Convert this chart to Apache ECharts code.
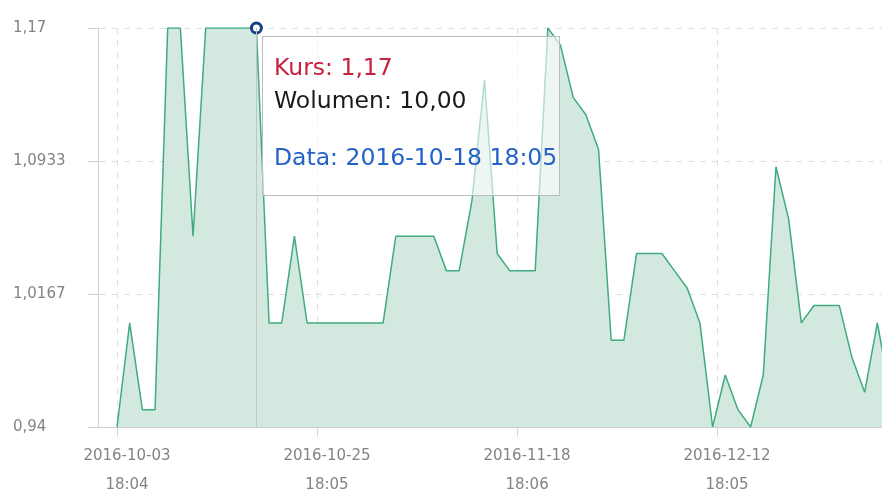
<!DOCTYPE html>
<html>
<head>
<meta charset="utf-8">
<script src="https://cdn.jsdelivr.net/npm/echarts@6/dist/echarts.min.js"></script>
<style>
html,body{margin:0;padding:0;background:#fff;}
#chart{width:882px;height:492px;}
</style>
</head>
<body>
<div id="chart"></div>
<script>
// ---- data ----
const dates = [
  '2016-10-03 18:04','2016-10-04 18:05','2016-10-05 18:05','2016-10-06 18:05','2016-10-07 18:05',
  '2016-10-10 18:05','2016-10-11 18:05','2016-10-12 18:05','2016-10-13 18:05','2016-10-14 18:05',
  '2016-10-17 18:05','2016-10-18 18:05','2016-10-19 18:05','2016-10-20 18:05','2016-10-21 18:05',
  '2016-10-24 18:05','2016-10-25 18:05','2016-10-26 18:05','2016-10-27 18:05','2016-10-28 18:05',
  '2016-10-31 18:05','2016-11-02 18:05','2016-11-03 18:05','2016-11-04 18:05','2016-11-07 18:05',
  '2016-11-08 18:05','2016-11-09 18:05','2016-11-10 18:05','2016-11-14 18:05','2016-11-15 18:05',
  '2016-11-16 18:05','2016-11-17 18:05','2016-11-18 18:06','2016-11-21 18:05','2016-11-22 18:05',
  '2016-11-23 18:05','2016-11-24 18:05','2016-11-25 18:05','2016-11-28 18:05','2016-11-29 18:05',
  '2016-11-30 18:05','2016-12-01 18:05','2016-12-02 18:05','2016-12-05 18:05','2016-12-06 18:05',
  '2016-12-07 18:05','2016-12-08 18:05','2016-12-09 18:05','2016-12-12 18:05','2016-12-13 18:05',
  '2016-12-14 18:05','2016-12-15 18:05','2016-12-16 18:05','2016-12-19 18:05','2016-12-20 18:05',
  '2016-12-21 18:05','2016-12-22 18:05','2016-12-23 18:05','2016-12-27 18:05','2016-12-28 18:05',
  '2016-12-29 18:05','2016-12-30 18:05'
];
const kurs = [
  0.94, 1.00, 0.95, 0.95, 1.17, 1.17, 1.05, 1.17, 1.17, 1.17,
  1.17, 1.17, 1.00, 1.00, 1.05, 1.00, 1.00, 1.00, 1.00, 1.00,
  1.00, 1.00, 1.05, 1.05, 1.05, 1.05, 1.03, 1.03, 1.07, 1.14,
  1.04, 1.03, 1.03, 1.03, 1.17, 1.16, 1.13, 1.12, 1.10, 0.99,
  0.99, 1.04, 1.04, 1.04, 1.03, 1.02, 1.00, 0.94, 0.97, 0.95,
  0.94, 0.97, 1.09, 1.06, 1.00, 1.01, 1.01, 1.01, 0.98, 0.96,
  1.00, 0.96
];
const tickAt = [0, 15.78, 31.57, 47.35];
const tickLabels = ['2016-10-03\n18:04', '2016-10-25\n18:05', '2016-11-18\n18:06', '2016-12-12\n18:05'];
const yMin = 0.94, yMax = 1.17;
const shownIndex = 11;
const shownVolume = 10.00;

// ---- chart ----
const FONT = 'DejaVu Sans';
const chart = echarts.init(document.getElementById('chart'), null, {renderer: 'canvas'});
const fmtNum = (v, d) => v.toFixed(d).replace('.', ',');
const AREA = '#d3e8df';

chart.setOption({
  animation: false,
  grid: {left: 88, right: -8, top: 28, bottom: 65, outerBoundsMode: 'none', containLabel: false},
  tooltip: {
    trigger: 'axis',
    alwaysShowContent: true,
    triggerOn: 'none',
    transitionDuration: 0,
    position: [262, 36],
    backgroundColor: 'rgba(255,255,255,0.6)',
    borderColor: '#bcbcbc',
    borderWidth: 1,
    padding: [14, 11, 18, 11],
    extraCssText: 'box-shadow:none;border-radius:0;width:274px;height:126px;box-sizing:content-box;',
    axisPointer: {type: 'line', snap: true, animation: false,
      lineStyle: {color: '#c4c4c4', width: 1, type: 'solid'}},
    formatter: function (params) {
      const p = params[0];
      const i = p.dataIndex;
      const st = 'font-family:' + FONT + ';font-size:23.5px;line-height:33px;white-space:nowrap;';
      return '<div style="' + st + 'color:#c8203f">Kurs: ' + fmtNum(kurs[i], 2) + '</div>' +
             '<div style="' + st + 'color:#1a1a1a">Wolumen: ' + fmtNum(shownVolume, 2) + '</div>' +
             '<div style="' + st + 'color:#2462c8;margin-top:24px">Data: ' + dates[i] + '</div>';
    }
  },
  xAxis: {
    type: 'value',
    min: -2.289,
    max: dates.length - 1,
    axisLine: {show: true, onZero: false, lineStyle: {color: '#cfcfcf', width: 1}},
    axisTick: {show: true, customValues: tickAt, length: 10, lineStyle: {color: '#d5d5d5'}},
    axisLabel: {
      customValues: tickAt,
      formatter: function (v) {
        let k = 0, best = 1e9;
        tickAt.forEach((t, j) => { if (Math.abs(t - v) < best) { best = Math.abs(t - v); k = j; } });
        return tickLabels[k];
      },
      color: '#838383', fontFamily: FONT, fontSize: 15, lineHeight: 29,
      margin: 15, padding: [0, 0, 0, 20]
    },
    splitLine: {show: true, lineStyle: {color: '#dedede', type: [6, 6], width: 1}}
  },
  yAxis: {
    type: 'value',
    min: yMin,
    max: yMax,
    interval: (yMax - yMin) / 3,
    offset: -10,
    axisLine: {show: true, onZero: false, lineStyle: {color: '#cfcfcf', width: 1}},
    axisTick: {show: true, length: 10, lineStyle: {color: '#cfcfcf'}},
    axisLabel: {
      formatter: v => (Math.round(v * 10000) / 10000).toString().replace('.', ','),
      color: '#838383', fontFamily: FONT, fontSize: 15,
      align: 'left', margin: 85, padding: [0, 0, 3, 0]
    },
    splitLine: {show: true, lineStyle: {color: '#dedede', type: [6, 6], width: 1}}
  },
  series: [{
    type: 'line',
    data: kurs.map((v, i) => [i, v]),
    showSymbol: false,
    symbol: 'circle',
    symbolSize: 10,
    lineStyle: {color: '#3a9c74', width: 1.5},
    areaStyle: {color: AREA, opacity: 1},
    itemStyle: {color: '#ffffff', borderColor: '#143f82', borderWidth: 3},
    emphasis: {scale: false, focus: 'none', lineStyle: {width: 1.5},
      areaStyle: {color: AREA, opacity: 1},
      itemStyle: {color: '#ffffff', borderColor: '#143f82', borderWidth: 3}},
    z: 3
  }]
});
chart.dispatchAction({type: 'showTip', seriesIndex: 0, dataIndex: shownIndex});
</script>
</body>
</html>
